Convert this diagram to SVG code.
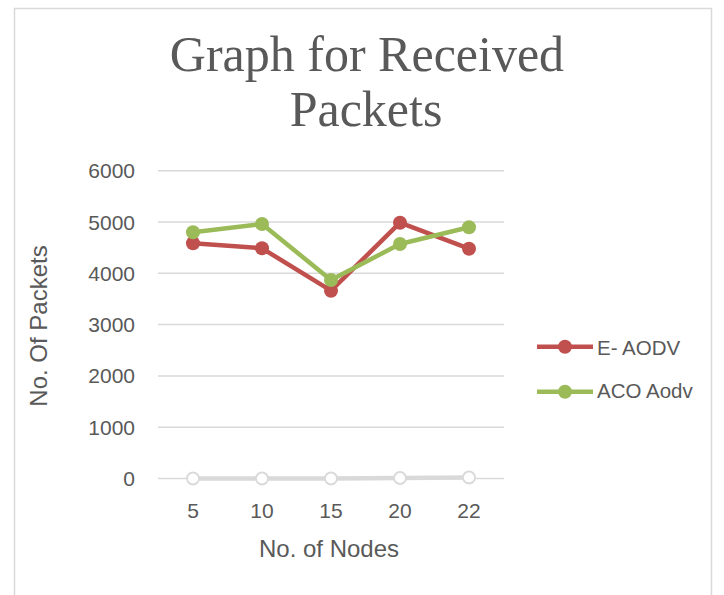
<svg xmlns="http://www.w3.org/2000/svg" width="724" height="595" viewBox="0 0 724 595">
<style>
.t{font-family:"Liberation Serif",serif;font-size:50px;fill:#595959;text-anchor:middle}
.ax{font-family:"Liberation Sans",sans-serif;font-size:21px;fill:#595959}
.at{font-family:"Liberation Sans",sans-serif;font-size:24px;fill:#595959;text-anchor:middle}
.lg{font-family:"Liberation Sans",sans-serif;font-size:20.5px;fill:#595959}
.grid{stroke:#d9d9d9;stroke-width:1.5}
.red{fill:none;stroke:#c0504d;stroke-width:4.5;stroke-linejoin:round}
.grn{fill:none;stroke:#9bbb59;stroke-width:4.5;stroke-linejoin:round}
.gry{fill:none;stroke:#d9d9d9;stroke-width:4.5}
</style>
<rect x="0" y="0" width="724" height="595" fill="#ffffff"/>
<rect x="14.5" y="8.5" width="697" height="600" fill="#ffffff" stroke="#d9d9d9" stroke-width="1.5"/>
<g id="title">
<text class="t" x="367" y="71">Graph for Received</text>
<text class="t" x="366" y="126">Packets</text>
</g>
<g id="grid">
<line class="grid" x1="158" y1="170.7" x2="504" y2="170.7"/>
<line class="grid" x1="158" y1="222" x2="504" y2="222"/>
<line class="grid" x1="158" y1="273.3" x2="504" y2="273.3"/>
<line class="grid" x1="158" y1="324.6" x2="504" y2="324.6"/>
<line class="grid" x1="158" y1="375.9" x2="504" y2="375.9"/>
<line class="grid" x1="158" y1="427.2" x2="504" y2="427.2"/>
<line class="grid" x1="158" y1="478.5" x2="504" y2="478.5"/>
</g>
<g id="y-axis" class="ax" text-anchor="end">
<text x="135" y="178.2">6000</text>
<text x="135" y="229.5">5000</text>
<text x="135" y="280.8">4000</text>
<text x="135" y="332.1">3000</text>
<text x="135" y="383.4">2000</text>
<text x="135" y="434.7">1000</text>
<text x="135" y="486">0</text>
</g>
<g id="x-axis" class="ax" text-anchor="middle">
<text x="193" y="518">5</text>
<text x="262" y="518">10</text>
<text x="331" y="518">15</text>
<text x="400" y="518">20</text>
<text x="469" y="518">22</text>
</g>
<text class="at" x="329" y="557">No. of Nodes</text>
<text class="at" transform="translate(47,326) rotate(-90)">No. Of Packets</text>
<g id="series-gray">
<polyline class="gry" points="193,478.5 262,478.5 331,478.5 400,478 469,477.5"/>
<g fill="#ffffff" stroke="#d9d9d9" stroke-width="1.8">
<circle cx="193" cy="478.5" r="6"/>
<circle cx="262" cy="478.5" r="6"/>
<circle cx="331" cy="478.5" r="6"/>
<circle cx="400" cy="478" r="6"/>
<circle cx="469" cy="477.5" r="6"/>
</g>
</g>
<g id="series-e-aodv">
<polyline class="red" points="193,243.3 262,248.3 331,290.7 400,222.7 469,248.7"/>
<g fill="#c0504d">
<circle cx="193" cy="243.3" r="7"/>
<circle cx="262" cy="248.3" r="7"/>
<circle cx="331" cy="290.7" r="7"/>
<circle cx="400" cy="222.7" r="7"/>
<circle cx="469" cy="248.7" r="7"/>
</g>
</g>
<g id="series-aco">
<polyline class="grn" points="193,232.3 262,224 331,280 400,244 469,227.3"/>
<g fill="#9bbb59">
<circle cx="193" cy="232.3" r="7"/>
<circle cx="262" cy="224" r="7"/>
<circle cx="331" cy="280" r="7"/>
<circle cx="400" cy="244" r="7"/>
<circle cx="469" cy="227.3" r="7"/>
</g>
</g>
<g id="legend">
<line class="red" x1="537" y1="346.7" x2="593" y2="346.7"/>
<circle cx="565" cy="346.7" r="7" fill="#c0504d"/>
<text class="lg" x="597" y="354.5">E- AODV</text>
<line class="grn" x1="537" y1="391.7" x2="593" y2="391.7"/>
<circle cx="565" cy="391.7" r="7" fill="#9bbb59"/>
<text class="lg" x="597" y="397.5">ACO Aodv</text>
</g>
</svg>
